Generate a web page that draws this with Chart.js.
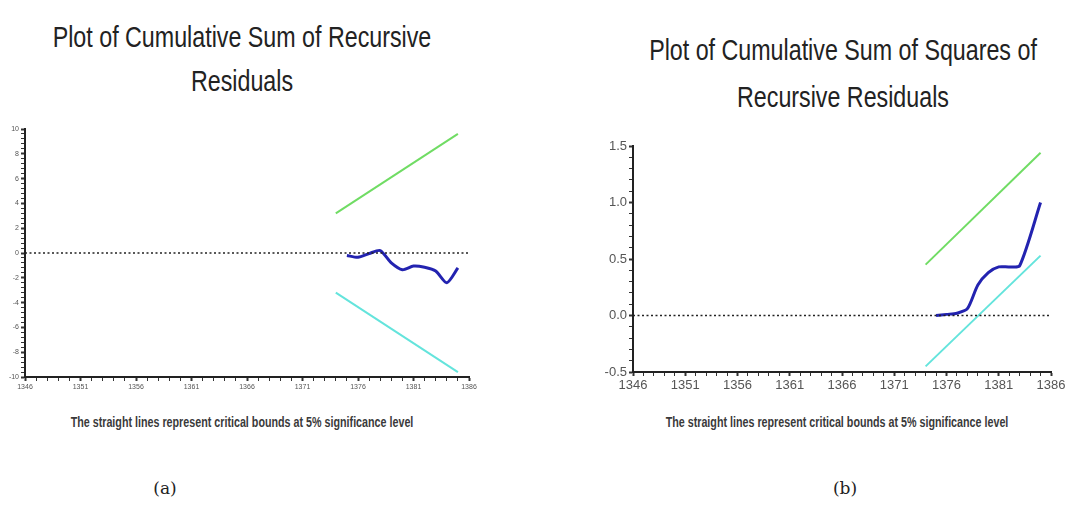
<!DOCTYPE html>
<html>
<head>
<meta charset="utf-8">
<script src="https://cdn.jsdelivr.net/npm/chart.js@4"></script>
<style>
  html, body { margin:0; padding:0; background:#fff; width:1081px; height:520px; overflow:hidden; }
  .abs { position:absolute; }
  .title { font-family:"Liberation Sans",Arial,sans-serif; font-size:30px; color:#222; text-align:center; white-space:nowrap; transform:translateX(-50%) scaleX(0.775); }
  .sub { font-family:"Liberation Sans",Arial,sans-serif; font-size:15px; font-weight:bold; color:#3a3a3a; white-space:nowrap; transform:translateX(-50%) scaleX(0.715); }
  .cap { font-family:"DejaVu Serif","Liberation Serif",serif; font-size:17px; color:#222; transform:translateX(-50%); }
</style>
</head>
<body>
<div class="abs title" style="left:242px; top:15px; line-height:44px;">Plot of Cumulative Sum of Recursive<br>Residuals</div>
<div class="abs title" style="left:843px; top:26px; line-height:47px;">Plot of Cumulative Sum of Squares of<br>Recursive Residuals</div>
<canvas id="c1" class="abs" style="left:0px; top:120px;" width="540" height="290"></canvas>
<canvas id="c2" class="abs" style="left:560px; top:120px;" width="521" height="290"></canvas>
<div class="abs sub" style="left:242px; top:413px;">The straight lines represent critical bounds at 5% significance level</div>
<div class="abs sub" style="left:837px; top:413px;">The straight lines represent critical bounds at 5% significance level</div>
<div class="abs cap" style="left:165px; top:478px;">(a)</div>
<div class="abs cap" style="left:845px; top:478px;">(b)</div>
<script>
// ---------- data ----------
const xMin = 1346;
const xMax = 1386;
const xMajorStep = 5;

// (a) CUSUM
const cusumYears  = [1375, 1376, 1377, 1378, 1379, 1380, 1381, 1382, 1383, 1384, 1385];
const cusumValues = [-0.2, -0.35, -0.05, 0.2, -0.8, -1.35, -1.05, -1.15, -1.45, -2.4, -1.2];
const cusumBoundYears = [1374, 1385];
const cusumUpper = [3.2, 9.6];
const cusumLower = [-3.2, -9.6];
const cusumYMin = -10, cusumYMax = 10;

// (b) CUSUM of squares
const sqYears  = [1375, 1376, 1377, 1378, 1379, 1380, 1381, 1382, 1383, 1385];
const sqValues = [0.0, 0.01, 0.02, 0.06, 0.27, 0.38, 0.43, 0.43, 0.44, 1.0];
const sqBoundYears = [1374, 1385];
const sqUpper = [0.45, 1.44];
const sqLower = [-0.45, 0.53];
const sqYMin = -0.5, sqYMax = 1.5;

const zeroYears = [xMin, xMax];
const zeroValues = [0, 0];

// ---------- helpers ----------
const pts = (xs, ys) => xs.map((x, i) => ({ x: x, y: ys[i] }));
const GREEN = '#70dc64', CYAN = '#64e4dc', BLUE = '#2323b0';

function makeDatasets(years, vals, bYears, up, lo) {
  return [
    { data: pts(zeroYears, zeroValues), borderColor:'#222', borderWidth:1.5, borderDash:[2,2.5], pointRadius:0 },
    { data: pts(bYears, up), borderColor:GREEN, borderWidth:2, pointRadius:0 },
    { data: pts(bYears, lo), borderColor:CYAN, borderWidth:2, pointRadius:0 },
    { data: pts(years, vals), borderColor:BLUE, borderWidth:3, pointRadius:0, tension:0.25 }
  ];
}

function isMult(v, m) { return Math.abs(v / m - Math.round(v / m)) < 1e-6; }
const isMajorX = v => (v - xMin) % xMajorStep === 0;

function xScale(fontSize, fixedHeight) {
  return {
    type:'linear', min:xMin, max:xMax,
    afterBuildTicks: s => { s.ticks = []; for (let v = xMin; v <= xMax; v++) s.ticks.push({ value:v }); },
    ticks: {
      autoSkip:false, maxRotation:0, padding:2, color:'#555',
      font:{ family:'"Liberation Sans",Arial', size:fontSize },
      callback: v => isMajorX(v) ? String(v) : ''
    },
    grid: { drawOnChartArea:false, drawTicks:true, tickLength:4, tickColor:'#333',
            tickWidth: c => (c.tick && isMajorX(c.tick.value)) ? 2 : 1 },
    border: { color:'#222', width:2 },
    afterFit: s => { s.height = fixedHeight; }
  };
}

function yScale(min, max, step, major, fmt, fontSize, fixedWidth) {
  return {
    type:'linear', min:min, max:max,
    ticks: {
      stepSize:step, autoSkip:false, padding:2, color:'#555',
      font:{ family:'"Liberation Sans",Arial', size:fontSize },
      callback: v => isMult(v, major) ? fmt(v) : ''
    },
    grid: { drawOnChartArea:false, drawTicks:true, tickLength:4, tickColor:'#333',
            tickWidth: c => (c.tick && isMult(c.tick.value, major)) ? 2 : 1 },
    border: { color:'#222', width:2 },
    afterFit: s => { s.width = fixedWidth; }
  };
}

const common = {
  responsive:false, animation:false, devicePixelRatio:1,
  plugins:{ legend:{ display:false }, tooltip:{ enabled:false }, title:{ display:false } },
  elements:{ line:{ fill:false } }
};

new Chart(document.getElementById('c1'), {
  type:'line',
  data:{ datasets: makeDatasets(cusumYears, cusumValues, cusumBoundYears, cusumUpper, cusumLower) },
  options: Object.assign({}, common, {
    layout:{ padding:{ left:0, top:9, right:71, bottom:0 } },
    scales:{
      x: xScale(7, 33),
      y: yScale(cusumYMin, cusumYMax, 0.4, 2, v => String(Math.round(v)), 7, 25)
    }
  })
});

new Chart(document.getElementById('c2'), {
  type:'line',
  data:{ datasets: makeDatasets(sqYears, sqValues, sqBoundYears, sqUpper, sqLower) },
  options: Object.assign({}, common, {
    layout:{ padding:{ left:0, top:26, right:30, bottom:0 } },
    scales:{
      x: xScale(13, 38),
      y: yScale(sqYMin, sqYMax, 0.1, 0.5, v => v.toFixed(1), 13, 73)
    }
  })
});
</script>
</body>
</html>
